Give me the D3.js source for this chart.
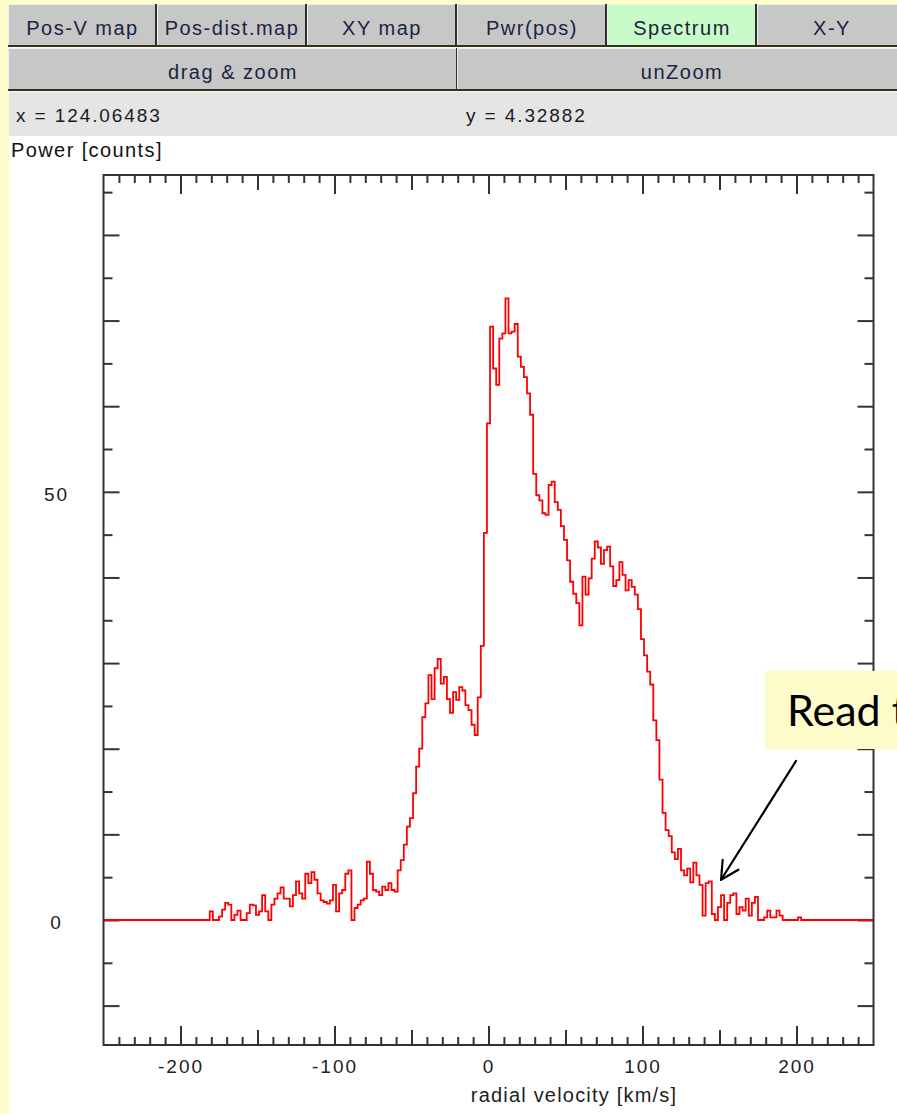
<!DOCTYPE html>
<html>
<head>
<meta charset="utf-8">
<script src="https://cdn.jsdelivr.net/npm/d3@7"></script>
<style>
  html, body { margin: 0; padding: 0; background: #fefecd; overflow: hidden; }
  svg { display: block; }
</style>
</head>
<body>
<svg id="chart" width="897" height="1114"></svg>
<script>
// ---- Spectrum data: power per 2 km/s channel, starting at -182 km/s ----
const velocityStart = -182;   // km/s, centre of first channel
const channelWidth = 2;       // km/s
const power = [
  0, 1.0, 0, 0, 0.4, 1.2, 2.0, 1.8, 0, 0.6,
  1.1, 0, 0, 0.8, 1.8, 1.7, 0.6, 1.0, 2.9, 1.0,
  0, 1.8, 2.5, 3.1, 3.8, 2.5, 2.5, 1.6, 2.9, 4.5,
  3.1, 2.5, 5.4, 4.3, 5.6, 4.7, 3.1, 2.3, 2.1, 1.9,
  2.3, 4.1, 1.0, 3.1, 3.5, 5.4, 5.8, 0, 1.4, 1.8,
  2.3, 2.5, 6.8, 5.4, 3.5, 3.3, 2.9, 3.9, 3.5, 4.3,
  3.5, 3.3, 5.8, 7.0, 8.8, 10.9, 11.9, 14.8, 17.9, 20.0,
  23.7, 25.3, 28.6, 25.8, 29.4, 30.5, 27.6, 28.4, 25.8, 24.2,
  26.6, 25.7, 27.2, 26.8, 25.1, 24.5, 22.8, 21.6, 26.0, 32.0,
  45.2, 58.0, 69.3, 64.4, 62.5, 67.9, 68.5, 72.6, 68.5, 68.7,
  69.6, 65.8, 64.6, 63.4, 61.5, 59.0, 52.1, 49.6, 49.0, 47.5,
  47.3, 50.8, 51.2, 48.8, 47.9, 46.0, 44.4, 42.0, 39.5, 38.1,
  37.0, 34.4, 40.1, 38.0, 39.9, 42.2, 44.2, 43.5, 41.6, 43.2,
  43.6, 41.3, 39.0, 39.7, 41.8, 40.3, 38.5, 39.7, 38.9, 38.0,
  36.3, 32.8, 30.9, 29.0, 27.5, 23.3, 21.0, 16.4, 12.5, 10.5,
  9.8, 7.9, 7.1, 8.3, 5.8, 5.2, 6.0, 4.4, 6.7, 5.2,
  4.1, 0.5, 4.3, 4.5, 0.7, 0, 1.5, 2.9, 0, 2.0,
  2.9, 3.1, 0.7, 1.5, 1.1, 2.5, 0.5, 2.0, 2.7, 0,
  0, 0.3, 1.1, 0.3, 0.3, 1.1, 0.5, 0, 0, 0,
  0, 0, 0.3, 0
];

// Axis ranges and labels
const velocityDomain = [-250, 250];
const powerDomain = [-14.6, 87];
const xLabelValues = [-200, -100, 0, 100, 200];
const yLabelValues = [0, 50];
const xMinorStep = 10;
const yMinorStep = 5;

// Control panel texts
const viewButtons = ["Pos-V map", "Pos-dist.map", "XY map", "Pwr(pos)", "Spectrum", "X-Y"];
const activeView = "Spectrum";
const zoomButtons = ["drag & zoom", "unZoom"];
const cursorReadout = ["x = 124.06483", "y = 4.32882"];
const yTitle = "Power [counts]";
const xTitle = "radial velocity [km/s]";

// Callout
const calloutText = "Read the value";
const calloutTarget = { velocity: 151, power: 4.7 };

// ---------------------------------------------------------------
const svg = d3.select("#chart");
const W = 897, H = 1114;
const uiFont = "'Liberation Sans', Arial, sans-serif";
const uiText = "#1b2440";

// page: yellow margin, white panel
svg.append("rect").attr("x", 0).attr("y", 0).attr("width", W).attr("height", H).attr("fill", "#fefecd");
svg.append("rect").attr("x", 9).attr("y", 136).attr("width", W - 9).attr("height", H - 136).attr("fill", "#ffffff");

// button bars
function drawButton(x0, y0, w, h, label, active) {
  const g = svg.append("g");
  g.append("rect").attr("x", x0).attr("y", y0).attr("width", w).attr("height", h)
    .attr("fill", active ? "#c9fbc9" : "#c7c7c7");
  g.append("line").attr("x1", x0).attr("x2", x0 + w).attr("y1", y0 + 0.5).attr("y2", y0 + 0.5)
    .attr("stroke", "#eeeeee").attr("stroke-width", 1);
  g.append("line").attr("x1", x0 + 0.5).attr("x2", x0 + 0.5).attr("y1", y0).attr("y2", y0 + h)
    .attr("stroke", "#eeeeee").attr("stroke-width", 1);
  g.append("line").attr("x1", x0 + w - 1).attr("x2", x0 + w - 1).attr("y1", y0).attr("y2", y0 + h)
    .attr("stroke", "#303030").attr("stroke-width", 2);
  g.append("line").attr("x1", x0).attr("x2", x0 + w).attr("y1", y0 + h - 1).attr("y2", y0 + h - 1)
    .attr("stroke", "#303030").attr("stroke-width", 2);
  g.append("text").attr("x", x0 + w / 2).attr("y", y0 + 31)
    .attr("text-anchor", "middle").attr("font-family", uiFont).attr("font-size", 20)
    .attr("letter-spacing", "1.5px").attr("fill", uiText).text(label);
}
viewButtons.forEach((b, i) => {
  const x0 = i === 0 ? 8 : 7 + i * 150;
  const w = i === 0 ? 149 : 150;
  drawButton(x0, 4, w, 43, b, b === activeView);
});
zoomButtons.forEach((b, i) => {
  const x0 = i === 0 ? 8 : 457;
  drawButton(x0, 48, 450, 43, b, false);
});

// cursor readout bar
svg.append("rect").attr("x", 9).attr("y", 92).attr("width", W - 9).attr("height", 44).attr("fill", "#e5e5e5");
cursorReadout.forEach((t, i) => {
  svg.append("text").attr("x", i === 0 ? 16 : 466).attr("y", 121.5)
    .attr("font-family", uiFont).attr("font-size", 19).attr("letter-spacing", "1.9px")
    .attr("fill", "#1a1a28").text(t);
});

// y title
svg.append("text").attr("x", 11).attr("y", 157)
  .attr("font-family", uiFont).attr("font-size", 20).attr("letter-spacing", "1.4px")
  .attr("fill", "#111").text(yTitle);

// ---- plot ----
const plot = { left: 103.5, right: 873.5, top: 175, bottom: 1045 };
const x = d3.scaleLinear().domain(velocityDomain).range([plot.left, plot.right]);
const y = d3.scaleLinear().domain(powerDomain).range([plot.bottom, plot.top]);

// ticks
const xTicks = d3.range(velocityDomain[0] + xMinorStep, velocityDomain[1], xMinorStep);
const yTicks = d3.range(-10, powerDomain[1], yMinorStep);
const xLen = v => (v % 100 === 0 ? 19 : (v % 50 === 0 ? 15 : 8));
const yLen = v => (v % 10 === 0 ? 16 : 9);
const axisColor = "#333333";
const tickFont = uiFont;

function styleAxis(g) {
  g.select(".domain").remove();
  g.selectAll(".tick line").attr("stroke", axisColor).attr("stroke-width", 2);
}

const gBottom = svg.append("g").attr("transform", `translate(0,${plot.bottom})`)
  .call(d3.axisBottom(x).tickValues(xTicks).tickSizeOuter(0)
    .tickFormat(v => (xLabelValues.includes(v) ? String(v) : "")));
styleAxis(gBottom);
gBottom.selectAll(".tick line").attr("y2", d => -xLen(d));
gBottom.selectAll(".tick text").attr("y", 27.7).attr("dy", 0)
  .attr("font-family", tickFont).attr("font-size", 19).attr("letter-spacing", "2px")
  .attr("fill", "#222");

const gTop = svg.append("g").attr("transform", `translate(0,${plot.top})`)
  .call(d3.axisTop(x).tickValues(xTicks).tickSizeOuter(0).tickFormat(""));
styleAxis(gTop);
gTop.selectAll(".tick line").attr("y2", d => xLen(d));

const gLeft = svg.append("g").attr("transform", `translate(${plot.left},0)`)
  .call(d3.axisLeft(y).tickValues(yTicks).tickSizeOuter(0)
    .tickFormat(v => (yLabelValues.includes(v) ? String(v) : "")));
styleAxis(gLeft);
gLeft.selectAll(".tick line").attr("x2", d => yLen(d));
gLeft.selectAll(".tick text").attr("x", -47).attr("dy", 9).attr("text-anchor", "middle")
  .attr("font-family", tickFont).attr("font-size", 19).attr("letter-spacing", "2px")
  .attr("fill", "#222");

const gRight = svg.append("g").attr("transform", `translate(${plot.right},0)`)
  .call(d3.axisRight(y).tickValues(yTicks).tickSizeOuter(0).tickFormat(""));
styleAxis(gRight);
gRight.selectAll(".tick line").attr("x2", d => -yLen(d));

// spectrum trace (drawn over the tick marks)
const spectrum = [{ v: velocityDomain[0], p: 0 }]
  .concat(power.map((p, i) => ({ v: velocityStart + i * channelWidth, p })))
  .concat([{ v: velocityDomain[1], p: 0 }]);

svg.append("clipPath").attr("id", "plotClip").append("rect")
  .attr("x", plot.left).attr("y", plot.top)
  .attr("width", plot.right - plot.left).attr("height", plot.bottom - plot.top);

const line = d3.line().x(d => x(d.v)).y(d => y(d.p)).curve(d3.curveStep);
svg.append("path").datum(spectrum)
  .attr("clip-path", "url(#plotClip)")
  .attr("fill", "none").attr("stroke", "#ff0000").attr("stroke-width", 1.8)
  .attr("d", line);

// frame
svg.append("rect").attr("x", plot.left).attr("y", plot.top)
  .attr("width", plot.right - plot.left).attr("height", plot.bottom - plot.top)
  .attr("fill", "none").attr("stroke", axisColor).attr("stroke-width", 2);

// x title
svg.append("text").attr("x", 574).attr("y", 1101.5).attr("text-anchor", "middle")
  .attr("font-family", uiFont).attr("font-size", 20).attr("letter-spacing", "1.2px")
  .attr("fill", "#222").text(xTitle);

// ---- callout ----
svg.append("rect").attr("x", 765).attr("y", 671).attr("width", 160).attr("height", 78)
  .attr("fill", "#fcfbc9");
svg.append("text").attr("x", 787).attr("y", 726)
  .attr("font-family", "Lato, 'Open Sans', sans-serif").attr("font-size", 43)
  .attr("fill", "#000").text(calloutText);

const tip = [x(calloutTarget.velocity), y(calloutTarget.power)];
const tail = [796, 761];
const ang = Math.atan2(tail[1] - tip[1], tail[0] - tip[0]);
const headLen = 20, headSpread = Math.PI / 6.5;
const arrow = svg.append("g").attr("stroke", "#000").attr("stroke-width", 2.2)
  .attr("fill", "none").attr("stroke-linecap", "round");
arrow.append("line").attr("x1", tail[0]).attr("y1", tail[1]).attr("x2", tip[0]).attr("y2", tip[1]);
[ang - headSpread, ang + headSpread].forEach(a => {
  arrow.append("line").attr("x1", tip[0]).attr("y1", tip[1])
    .attr("x2", tip[0] + headLen * Math.cos(a)).attr("y2", tip[1] + headLen * Math.sin(a));
});
</script>
</body>
</html>
